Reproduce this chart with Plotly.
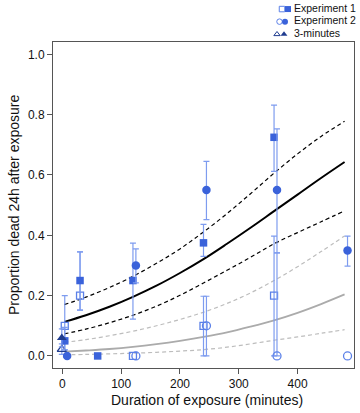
import plotly.graph_objects as go

# ---------------- data ----------------
# fitted model curves, tabulated at these durations (minutes)
curve_x = [3, 40, 80, 120, 160, 200, 240, 280, 320, 360, 400, 440, 480]
fit_a = [0.113, 0.135, 0.163, 0.196, 0.233, 0.275, 0.321, 0.372, 0.425, 0.480, 0.535, 0.590, 0.643]
fit_a_hi = [0.170, 0.195, 0.227, 0.264, 0.307, 0.355, 0.411, 0.472, 0.538, 0.606, 0.670, 0.728, 0.778]
fit_a_lo = [0.073, 0.089, 0.110, 0.135, 0.165, 0.201, 0.242, 0.284, 0.327, 0.372, 0.409, 0.445, 0.481]
fit_b = [0.014, 0.018, 0.023, 0.030, 0.039, 0.050, 0.063, 0.078, 0.097, 0.118, 0.143, 0.172, 0.204]
fit_b_hi = [0.045, 0.054, 0.067, 0.082, 0.100, 0.121, 0.145, 0.174, 0.209, 0.250, 0.296, 0.346, 0.398]
fit_b_lo = [0.004, 0.005, 0.007, 0.009, 0.012, 0.016, 0.021, 0.029, 0.040, 0.052, 0.063, 0.075, 0.087]

# Experiment 1 (squares)
exp1_filled_x = [4, 30, 60, 120, 240, 360]
exp1_filled_y = [0.05, 0.25, 0.0, 0.25, 0.375, 0.725]
exp1_filled_lo = [0.02, 0.152, None, 0.122, 0.33, 0.612]
exp1_filled_hi = [0.095, 0.345, None, 0.374, 0.436, 0.832]
exp1_open_x = [4, 30, 120, 240, 360]
exp1_open_y = [0.10, 0.20, 0.0, 0.10, 0.20]
exp1_open_lo = [0.02, 0.152, None, 0.0, 0.0]
exp1_open_hi = [0.20, 0.345, None, 0.198, 0.397]

# Experiment 2 (circles), nominal durations
exp2_filled_x = [3, 120, 240, 360, 480]
exp2_filled_y = [0.0, 0.30, 0.55, 0.55, 0.35]
exp2_filled_lo = [None, 0.242, 0.452, 0.342, 0.298]
exp2_filled_hi = [None, 0.355, 0.645, 0.753, 0.397]
exp2_open_x = [120, 240, 360, 480]
exp2_open_y = [0.0, 0.10, 0.0, 0.0]
exp2_open_lo = [None, 0.0, 0.0, None]
exp2_open_hi = [None, 0.198, 0.342, None]

# 3-minutes (triangles)
tri_filled_x = [-1]
tri_filled_y = [0.06]
tri_filled_lo = [0.03]
tri_filled_hi = [0.09]
tri_open_x = [-1]
tri_open_y = [0.022]
tri_open_lo = [0.005]
tri_open_hi = [0.04]

x_ticks = [0, 100, 200, 300, 400]
y_ticks = [0.0, 0.2, 0.4, 0.6, 0.8, 1.0]
legend_labels = ["Experiment 1", "Experiment 2", "3-minutes"]

# ---------------- style ----------------
FONT = "Liberation Sans, Arial, Helvetica, sans-serif"
BLUE = "#3A62DA"
BLUE_OPEN = "#5B80E8"
BAR = "#7E9CEF"
NAVY = "#1F3C8F"
EXP2_DODGE = 5

fig = go.Figure()

def curve(y, color, width, dash):
    fig.add_trace(go.Scatter(x=curve_x, y=y, mode="lines", line=dict(color=color, width=width, dash=dash, shape="spline"),
                             hoverinfo="skip", showlegend=False))

curve(fit_b_lo, "#BDBDBD", 1.2, "4px,3px")
curve(fit_b_hi, "#BDBDBD", 1.2, "4px,3px")
curve(fit_b, "#ABABAB", 1.8, "solid")
curve(fit_a_lo, "#000000", 1.2, "4px,3px")
curve(fit_a_hi, "#000000", 1.2, "4px,3px")
curve(fit_a, "#000000", 2, "solid")


def points(xs, ys, los, his, symbol, color, size, offset=0, open_=False, barcolor=BAR):
    xb, yb, ep, em, xn, yn = [], [], [], [], [], []
    for x, y, lo, hi in zip(xs, ys, los, his):
        if lo is None:
            xn.append(x + offset); yn.append(y)
        else:
            xb.append(x + offset); yb.append(y); ep.append(hi - y); em.append(y - lo)
    mk = dict(symbol=symbol, size=size, color=color, line=dict(color=color, width=1.3 if open_ else 0))
    if xb:
        fig.add_trace(go.Scatter(x=xb, y=yb, mode="markers", marker=mk, showlegend=False, cliponaxis=False,
                                 error_y=dict(type="data", symmetric=False, array=ep, arrayminus=em,
                                              color=barcolor, thickness=1.2, width=3)))
    if xn:
        fig.add_trace(go.Scatter(x=xn, y=yn, mode="markers", marker=mk, showlegend=False, cliponaxis=False))


points(exp1_open_x, exp1_open_y, exp1_open_lo, exp1_open_hi, "square-open", BLUE_OPEN, 7, open_=True)
points(exp2_open_x, exp2_open_y, exp2_open_lo, exp2_open_hi, "circle-open", BLUE_OPEN, 8, offset=EXP2_DODGE, open_=True)
points(tri_open_x, tri_open_y, tri_open_lo, tri_open_hi, "triangle-up-open", NAVY, 8, open_=True)
points(exp1_filled_x, exp1_filled_y, exp1_filled_lo, exp1_filled_hi, "square", BLUE, 7.5)
points(exp2_filled_x, exp2_filled_y, exp2_filled_lo, exp2_filled_hi, "circle", BLUE, 8.5, offset=EXP2_DODGE)
points(tri_filled_x, tri_filled_y, tri_filled_lo, tri_filled_hi, "triangle-up", NAVY, 8.5)

# ---------------- legend drawn on an overlay axis (pixel units) ----------------
leg_rows = [9, 21.5, 34]
leg_open = [("square-open", BLUE_OPEN, 282), ("circle-open", BLUE_OPEN, 279.5), ("triangle-up-open", NAVY, 277)]
leg_fill = [("square", BLUE, 288), ("circle", BLUE, 285), ("triangle-up", NAVY, 284)]
for i, lab in enumerate(legend_labels):
    so, co, xo = leg_open[i]
    sf, cf, xf = leg_fill[i]
    fig.add_trace(go.Scatter(x=[xo], y=[leg_rows[i]], xaxis="x2", yaxis="y2", mode="markers", cliponaxis=False,
                             marker=dict(symbol=so, size=5.5, color=co, line=dict(color=co, width=1)), showlegend=False))
    fig.add_trace(go.Scatter(x=[xf], y=[leg_rows[i]], xaxis="x2", yaxis="y2", mode="markers", cliponaxis=False,
                             marker=dict(symbol=sf, size=6, color=cf, line=dict(width=0)), showlegend=False))
    fig.add_trace(go.Scatter(x=[294], y=[leg_rows[i]], xaxis="x2", yaxis="y2", mode="text", cliponaxis=False,
                             text=[lab], textposition="middle right",
                             textfont=dict(family=FONT, size=10.5, color="#111"), showlegend=False))

H, T, B = 413, 2, 45
main_top = (H - T - B - 40.3) / (H - T - B)

axis_common = dict(showline=True, linecolor="#555", linewidth=1, mirror=True, ticks="outside", ticklen=5,
                   tickcolor="#555", tickwidth=1, showgrid=False, zeroline=False,
                   tickfont=dict(family=FONT, size=12, color="#111"))

fig.update_layout(
    width=360, height=413,
    margin=dict(l=53, r=6, t=T, b=B),
    paper_bgcolor="white", plot_bgcolor="white",
    xaxis=dict(range=[-16, 496], tickvals=x_ticks, **axis_common),
    yaxis=dict(range=[-0.04, 1.04], tickvals=y_ticks, tickformat=".1f", domain=[0, main_top], **axis_common),
    xaxis2=dict(range=[53, 354], domain=[0, 1], anchor="y2", visible=False),
    yaxis2=dict(range=[42, 2], domain=[main_top, 1], anchor="x2", visible=False),
    annotations=[
        dict(text="Duration of exposure (minutes)", xref="paper", yref="paper", x=0.51, y=-0.088,
             xanchor="center", yanchor="middle", showarrow=False, font=dict(family=FONT, size=14, color="#111")),
        dict(text="Proportion dead 24h after exposure", xref="paper", yref="paper", x=-0.13, y=main_top / 2,
             xanchor="center", yanchor="middle", textangle=-90, showarrow=False,
             font=dict(family=FONT, size=14, color="#111")),
    ],
    showlegend=False,
)

fig.write_html("out.html", config={"displayModeBar": False},
               post_script="document.body.style.margin='0';document.body.style.overflow='hidden';")
